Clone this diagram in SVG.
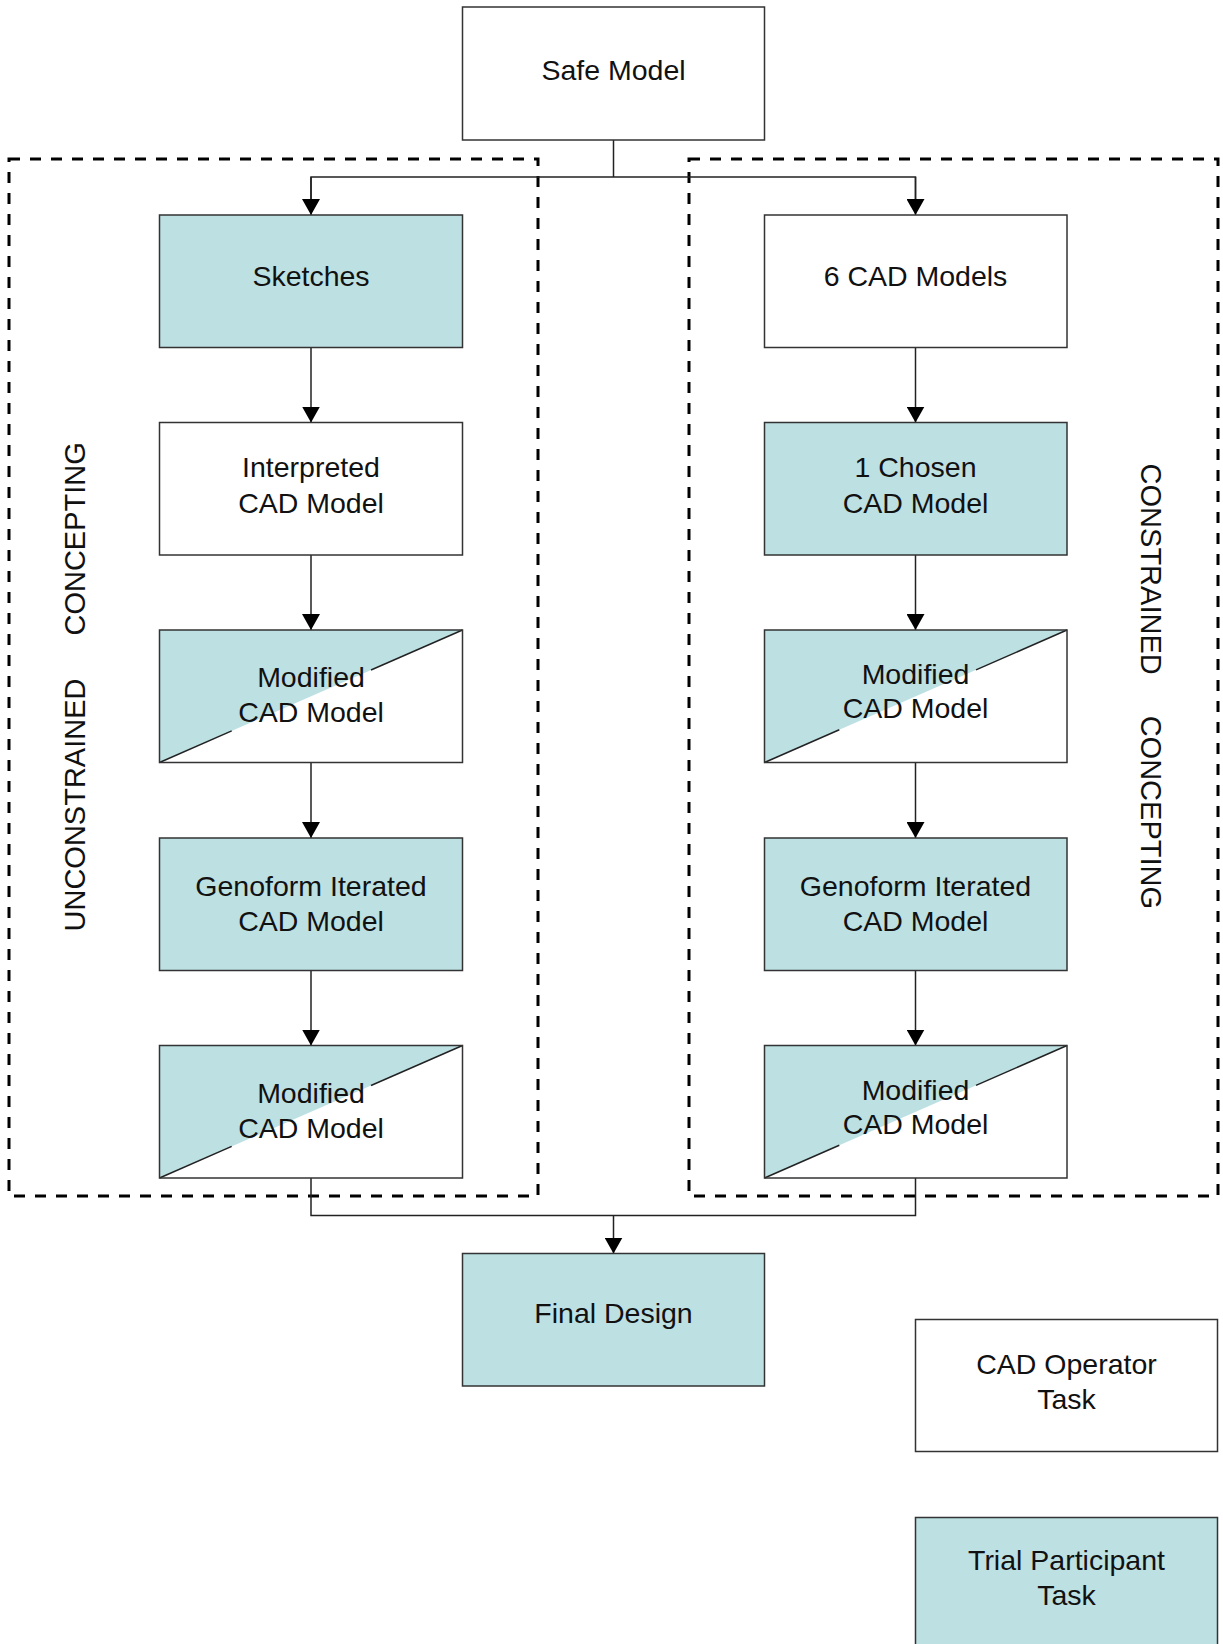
<svg xmlns="http://www.w3.org/2000/svg" width="1223" height="1644" viewBox="0 0 1223 1644">
<style>
.box{stroke:#333;stroke-width:1.5}
.w{fill:#fff}
.t{fill:#bde0e3}
.edge{fill:none;stroke:#222;stroke-width:1.5}
.diag{stroke:#222;stroke-width:1.5}
.dash{fill:none;stroke:#000;stroke-width:3;stroke-dasharray:11 10}
text{font-family:"Liberation Sans",Arial,sans-serif;font-size:28.5px;fill:#111;text-anchor:middle}
.side{text-anchor:start;font-size:29px}
</style>
<defs>
<marker id="arr" viewBox="0 0 16 18" refX="16" refY="9" markerWidth="16" markerHeight="18" markerUnits="userSpaceOnUse" orient="auto">
<path d="M0,0 L16,9 L0,18 z" fill="#000"/>
</marker>
</defs>
<rect width="1223" height="1644" fill="#fff"/>

<g id="groups">
<rect class="dash" x="9" y="159" width="529" height="1037"/>
<rect class="dash" x="689" y="159" width="529" height="1037"/>
<text class="side" transform="translate(85,931.5) rotate(-90)">UNCONSTRAINED<tspan dx="43">CONCEPTING</tspan></text>
<text class="side" transform="translate(1141,463.6) rotate(90)">CONSTRAINED<tspan dx="41">CONCEPTING</tspan></text>
</g>

<g id="connectors">
<polyline class="edge" points="613.5,140 613.5,177"/>
<polyline class="edge" points="311,200 311,177 915.5,177 915.5,200"/>
<line class="edge" x1="311" y1="177" x2="311" y2="215" marker-end="url(#arr)"/>
<line class="edge" x1="915.5" y1="177" x2="915.5" y2="215" marker-end="url(#arr)"/>
<line class="edge" x1="311" y1="347.5" x2="311" y2="422.5" marker-end="url(#arr)"/>
<line class="edge" x1="311" y1="555" x2="311" y2="630" marker-end="url(#arr)"/>
<line class="edge" x1="311" y1="762.5" x2="311" y2="838" marker-end="url(#arr)"/>
<line class="edge" x1="311" y1="970.5" x2="311" y2="1045.5" marker-end="url(#arr)"/>
<line class="edge" x1="915.5" y1="347.5" x2="915.5" y2="422.5" marker-end="url(#arr)"/>
<line class="edge" x1="915.5" y1="555" x2="915.5" y2="630" marker-end="url(#arr)"/>
<line class="edge" x1="915.5" y1="762.5" x2="915.5" y2="838" marker-end="url(#arr)"/>
<line class="edge" x1="915.5" y1="970.5" x2="915.5" y2="1045.5" marker-end="url(#arr)"/>
<polyline class="edge" points="311,1178 311,1215.5 915.5,1215.5 915.5,1178"/>
<line class="edge" x1="613.5" y1="1215.5" x2="613.5" y2="1253.5" marker-end="url(#arr)"/>
</g>

<g id="safe-model">
<rect class="box w" x="462.5" y="7" width="302" height="133"/>
<text x="613.5" y="80">Safe Model</text>
</g>

<g id="sketches">
<rect class="box t" x="159.5" y="215" width="303" height="132.5"/>
<text x="311" y="286">Sketches</text>
</g>

<g id="cad-models-6">
<rect class="box w" x="764.5" y="215" width="302.5" height="132.5"/>
<text x="915.5" y="286">6 CAD Models</text>
</g>

<g id="interpreted">
<rect class="box w" x="159.5" y="422.5" width="303" height="132.5"/>
<text x="311" y="477">Interpreted</text>
<text x="311" y="512.5">CAD Model</text>
</g>

<g id="chosen">
<rect class="box t" x="764.5" y="422.5" width="302.5" height="132.5"/>
<text x="915.5" y="477">1 Chosen</text>
<text x="915.5" y="512.5">CAD Model</text>
</g>

<g id="modified-left-1">
<rect class="w" x="159.5" y="630" width="303" height="132.5"/>
<polygon class="t" points="159.5,630 462.5,630 159.5,762.5"/>
<line class="diag" x1="159.5" y1="762.5" x2="231.7" y2="730.9"/>
<line class="diag" x1="371" y1="670" x2="462.5" y2="630"/>
<rect class="box" fill="none" x="159.5" y="630" width="303" height="132.5"/>
<text x="311" y="687">Modified</text>
<text x="311" y="722">CAD Model</text>
</g>

<g id="modified-right-1">
<rect class="w" x="764.5" y="630" width="302.5" height="132.5"/>
<polygon class="t" points="764.5,630 1067,630 764.5,762.5"/>
<line class="diag" x1="764.5" y1="762.5" x2="839.3" y2="729.7"/>
<line class="diag" x1="976" y1="669.9" x2="1067" y2="630"/>
<rect class="box" fill="none" x="764.5" y="630" width="302.5" height="132.5"/>
<text x="915.5" y="683.5">Modified</text>
<text x="915.5" y="718">CAD Model</text>
</g>

<g id="genoform-left">
<rect class="box t" x="159.5" y="838" width="303" height="132.5"/>
<text x="311" y="896">Genoform Iterated</text>
<text x="311" y="930.5">CAD Model</text>
</g>

<g id="genoform-right">
<rect class="box t" x="764.5" y="838" width="302.5" height="132.5"/>
<text x="915.5" y="896">Genoform Iterated</text>
<text x="915.5" y="930.5">CAD Model</text>
</g>

<g id="modified-left-2">
<rect class="w" x="159.5" y="1045.5" width="303" height="132.5"/>
<polygon class="t" points="159.5,1045.5 462.5,1045.5 159.5,1178"/>
<line class="diag" x1="159.5" y1="1178" x2="231.7" y2="1146.4"/>
<line class="diag" x1="371" y1="1085.5" x2="462.5" y2="1045.5"/>
<rect class="box" fill="none" x="159.5" y="1045.5" width="303" height="132.5"/>
<text x="311" y="1103">Modified</text>
<text x="311" y="1138">CAD Model</text>
</g>

<g id="modified-right-2">
<rect class="w" x="764.5" y="1045.5" width="302.5" height="132.5"/>
<polygon class="t" points="764.5,1045.5 1067,1045.5 764.5,1178"/>
<line class="diag" x1="764.5" y1="1178" x2="839.3" y2="1145.2"/>
<line class="diag" x1="976" y1="1085.4" x2="1067" y2="1045.5"/>
<rect class="box" fill="none" x="764.5" y="1045.5" width="302.5" height="132.5"/>
<text x="915.5" y="1099.5">Modified</text>
<text x="915.5" y="1134">CAD Model</text>
</g>

<g id="final-design">
<rect class="box t" x="462.5" y="1253.5" width="302" height="132.5"/>
<text x="613.5" y="1323">Final Design</text>
</g>

<g id="legend-cad-operator">
<rect class="box w" x="915.5" y="1319.5" width="302" height="132"/>
<text x="1066.5" y="1374">CAD Operator</text>
<text x="1066.5" y="1409">Task</text>
</g>

<g id="legend-trial-participant">
<rect class="box t" x="915.5" y="1517.5" width="302" height="132"/>
<text x="1066.5" y="1570">Trial Participant</text>
<text x="1066.5" y="1605">Task</text>
</g>
</svg>
